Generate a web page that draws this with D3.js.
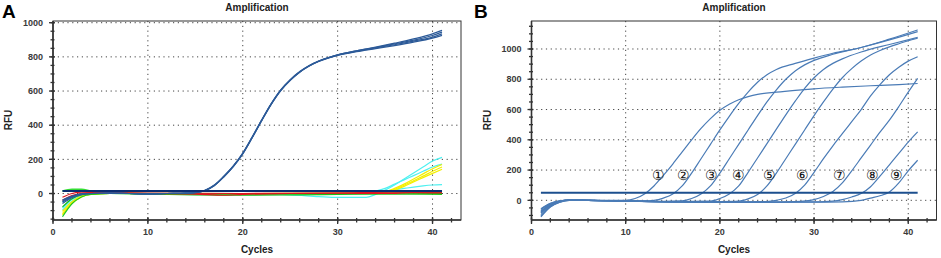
<!DOCTYPE html>
<html><head><meta charset="utf-8">
<script src="https://cdn.jsdelivr.net/npm/d3@7"></script>
<style>
body{margin:0;background:#fff}
svg{display:block}
text{font-family:"Liberation Sans",Arial,sans-serif}
</style>
</head><body>
<svg id="chart" width="941" height="258"></svg>
<script>
// ---------- shared axis data ----------
const xMajorTicks = [0, 10, 20, 30, 40];
const yMajorTicks = [0, 200, 400, 600, 800, 1000];
const titleText = "Amplification";
const xLabel = "Cycles";
const yLabel = "RFU";

// ---------- Panel A data: [cycle, RFU] ----------
const thresholdA = 15;
const aBlue1 = [[1,-58],[2,-25],[3,-6],[4,0],[6,2],[8,0],[10,-2],[12,0],[14,2],[15,6],[16,18],[17,48],[18,100],[19,160],[20,235],[21,330],[22,430],[23,525],[24,605],[25,665],[26,712],[27,748],[28,775],[29,795],[30,812],[32,836],[34,857],[36,880],[38,905],[40,935],[41,955]];
const aBlue2 = [[1,-50],[2,-20],[3,-4],[4,0],[6,2],[8,0],[10,-2],[12,0],[14,2],[15,6],[16,19],[17,50],[18,102],[19,162],[20,237],[21,332],[22,432],[23,527],[24,607],[25,667],[26,714],[27,750],[28,776],[29,796],[30,812],[32,835],[34,855],[36,876],[38,898],[40,925],[41,945]];
const aBlue3 = [[1,-45],[2,-18],[3,-3],[4,0],[6,2],[8,0],[10,-2],[12,0],[14,2],[15,5],[16,17],[17,47],[18,98],[19,158],[20,233],[21,328],[22,428],[23,523],[24,603],[25,663],[26,711],[27,747],[28,774],[29,794],[30,810],[32,833],[34,852],[36,871],[38,892],[40,916],[41,935]];
const aBlue4 = [[1,-38],[2,-15],[3,-2],[4,0],[6,2],[8,0],[10,-2],[12,0],[14,2],[15,5],[16,17],[17,46],[18,97],[19,157],[20,232],[21,327],[22,427],[23,522],[24,602],[25,662],[26,710],[27,746],[28,773],[29,793],[30,808],[32,830],[34,848],[36,866],[38,886],[40,910],[41,926]];
const aRed1 = [[1,-40],[2,-12],[3,0],[4,5],[6,3],[10,0],[15,-3],[18,-10],[20,-5],[25,0],[30,2],[35,0],[38,5],[41,3]];
const aRed2 = [[1,-22],[2,0],[3,8],[4,8],[6,5],[10,2],[20,0],[30,3],[36,8],[41,8]];
const aGreen1 = [[1,-78],[2,-30],[3,-8],[4,-2],[6,0],[10,-3],[15,-8],[20,-10],[25,-8],[30,-5],[35,-2],[41,0]];
const aGreen2 = [[1,-136],[2,-60],[3,-20],[4,-5],[6,0],[12,-5],[20,-5],[30,0],[41,-5]];
const aGreen3 = [[1,15],[2,25],[3,25],[4,15],[6,5],[10,0],[20,-2],[30,0],[41,8]];
const aCyan1 = [[1,-97],[2,-45],[3,-15],[4,-3],[6,0],[10,0],[20,-3],[25,-8],[28,-18],[30,-23],[33,-23],[34,-5],[35,20],[36,50],[37,85],[38,120],[39,155],[40,190],[41,212]];
const aCyan2 = [[1,-85],[2,-35],[3,-10],[4,0],[10,0],[20,0],[30,0],[33,5],[34,15],[35,30],[36,55],[37,80],[38,105],[39,130],[40,155],[41,172]];
const aCyan3 = [[1,-50],[2,-20],[3,-5],[5,0],[20,0],[30,0],[35,10],[36,22],[37,30],[38,38],[39,45],[40,50],[41,52]];
const aYellow1 = [[1,-117],[2,-55],[3,-18],[4,-4],[6,0],[20,0],[33,2],[35,10],[36,30],[37,55],[38,85],[39,115],[40,145],[41,170]];
const aYellow2 = [[1,-105],[2,-48],[3,-15],[4,-3],[6,0],[20,0],[34,2],[35,8],[36,25],[37,48],[38,75],[39,102],[40,130],[41,155]];
const aYellow3 = [[1,-125],[2,-58],[3,-20],[4,-5],[6,0],[20,0],[34,0],[35,5],[36,20],[37,42],[38,68],[39,93],[40,118],[41,142]];

// ---------- Panel B data: [cycle, RFU] ----------
const thresholdB = 50;
const bCurve1 = [[1,-60],[2,-22],[3,-4],[4,2],[6,0],[8,0],[10,0],[11,12],[12,42],[13,95],[14,165],[15,240],[16,320],[17,400],[18,475],[19,540],[20,595],[21,635],[22,665],[23,685],[24,700],[26,715],[28,727],[30,737],[33,748],[36,757],[39,765],[41,772]];
const bCurve2 = [[1,-75],[2,-28],[3,-6],[4,2],[6,0],[9,-3],[12,-4],[13,0],[14,15],[15,42],[16,95],[17,180],[18,275],[19,370],[20,465],[21,555],[22,640],[23,715],[24,780],[25,830],[26,865],[28,905],[30,940],[32,972],[35,1010],[38,1065],[41,1126]];
const bCurve3 = [[1,-85],[2,-32],[3,-8],[4,2],[6,0],[10,-4],[14,-6],[16,-3],[17,12],[18,42],[19,95],[20,180],[21,275],[22,370],[23,465],[24,560],[25,650],[26,730],[27,800],[28,855],[29,895],[30,925],[32,965],[35,1010],[38,1060],[41,1115]];
const bCurve4 = [[1,-95],[2,-38],[3,-10],[4,1],[6,0],[10,-5],[15,-8],[19,-5],[20,12],[21,42],[22,95],[23,185],[24,280],[25,375],[26,470],[27,565],[28,655],[29,740],[30,810],[31,865],[32,905],[33,935],[35,980],[38,1030],[41,1077]];
const bCurve5 = [[1,-105],[2,-42],[3,-12],[4,0],[6,0],[10,-5],[15,-10],[20,-8],[22,-5],[23,10],[24,38],[25,95],[26,180],[27,275],[28,370],[29,465],[30,560],[31,650],[32,735],[33,810],[34,870],[35,920],[36,960],[37,990],[39,1035],[41,1071]];
const bCurve6 = [[1,-70],[2,-26],[3,-5],[4,2],[6,0],[10,-6],[15,-10],[20,-12],[25,-8],[26,0],[27,15],[28,45],[29,100],[30,185],[31,275],[32,360],[33,440],[34,520],[35,600],[36,690],[37,765],[38,830],[39,880],[40,920],[41,949]];
const bCurve7 = [[1,-55],[2,-20],[3,-3],[4,2],[6,0],[10,-5],[15,-10],[20,-12],[25,-12],[28,-8],[30,5],[31,25],[32,58],[33,115],[34,195],[35,280],[36,365],[37,450],[38,530],[39,620],[40,715],[41,806]];
const bCurve8 = [[1,-80],[2,-30],[3,-7],[4,1],[6,0],[10,-5],[15,-10],[20,-12],[25,-12],[30,-10],[32,-5],[33,5],[34,22],[35,45],[36,90],[37,160],[38,235],[39,310],[40,385],[41,452]];
const bCurve9 = [[1,-110],[2,-45],[3,-12],[4,0],[6,0],[10,-5],[15,-10],[20,-12],[25,-12],[30,-12],[33,-10],[35,0],[36,15],[37,30],[38,55],[39,115],[40,195],[41,265]];
const bLabels = ["①","②","③","④","⑤","⑥","⑦","⑧","⑨"];
const bLabelCycles = [13.5, 16.1, 19.1, 22.0, 25.3, 28.8, 32.7, 36.2, 38.7];
const bLabelRfu = 165;

// ---------- drawing ----------
const svg = d3.select("#chart");

function drawPanel(o) {
  const x = d3.scaleLinear().domain([0, 43]).range([o.left, o.right]);
  const y = d3.scaleLinear().domain(o.yDomain).range([o.bottom, o.top]);
  const g = svg.append("g");

  // grid (dotted)
  const grid = g.append("g").attr("stroke", "#444").attr("stroke-width", 1)
    .attr("stroke-dasharray", "1.2,3.6");
  grid.selectAll(".gx").data(xMajorTicks.filter(d => d > 0)).join("line")
    .attr("x1", d => x(d)).attr("x2", d => x(d)).attr("y1", o.top).attr("y2", o.bottom);
  grid.selectAll(".gy").data(yMajorTicks).join("line")
    .attr("x1", o.left).attr("x2", o.right).attr("y1", d => y(d)).attr("y2", d => y(d));

  // frame
  g.append("rect").attr("x", o.left).attr("y", o.top)
    .attr("width", o.right - o.left).attr("height", o.bottom - o.top)
    .attr("fill", "none").attr("stroke", "#333").attr("stroke-width", 1);

  // curves
  const line = d3.line().x(d => x(d[0])).y(d => y(d[1])).curve(d3.curveMonotoneX);
  const cg = g.append("g").attr("fill", "none");
  o.series.forEach(s => {
    cg.append("path").datum(s.data).attr("d", line)
      .attr("stroke", s.color).attr("stroke-width", s.width || 1.2);
  });
  // threshold
  cg.append("path").datum([[1, o.threshold], [41, o.threshold]]).attr("d", line)
    .attr("stroke", o.thresholdColor).attr("stroke-width", 2);

  // axes
  const xMinor = d3.range(0, 43, 2);
  const yMinor = d3.range(Math.ceil(o.yDomain[0] / 50) * 50, o.yDomain[1], 50);
  const ax = g.append("g").attr("stroke", "#333");
  ax.selectAll(".xm").data(xMinor).join("line")
    .attr("x1", d => x(d)).attr("x2", d => x(d))
    .attr("y1", o.bottom - 2).attr("y2", o.bottom + 2.5).attr("stroke-width", 1.3);
  ax.selectAll(".xM").data(xMajorTicks).join("line")
    .attr("x1", d => x(d)).attr("x2", d => x(d))
    .attr("y1", o.bottom - 3).attr("y2", o.bottom + 4).attr("stroke-width", 1.3);
  ax.selectAll(".ym").data(yMinor).join("line")
    .attr("x1", o.left - 2.5).attr("x2", o.left + 1.5)
    .attr("y1", d => y(d)).attr("y2", d => y(d)).attr("stroke-width", 1.3);
  ax.selectAll(".yM").data(yMajorTicks).join("line")
    .attr("x1", o.left - 4).attr("x2", o.left + 2)
    .attr("y1", d => y(d)).attr("y2", d => y(d)).attr("stroke-width", 1.3);
  ax.append("line").attr("x1", o.left).attr("x2", o.right)
    .attr("y1", o.bottom).attr("y2", o.bottom).attr("stroke-width", 1.6);
  ax.append("line").attr("x1", o.left).attr("x2", o.left)
    .attr("y1", o.top).attr("y2", o.bottom).attr("stroke-width", 1.6);

  // tick labels
  g.selectAll(".xl").data(xMajorTicks).join("text")
    .attr("x", d => x(d)).attr("y", 235).attr("text-anchor", "middle")
    .attr("font-size", 9).attr("font-weight", "bold").attr("fill", "#3a3a3a").text(d => d);
  g.selectAll(".yl").data(yMajorTicks).join("text")
    .attr("x", o.left - 10).attr("y", d => y(d) + 3.2).attr("text-anchor", "end")
    .attr("font-size", 9).attr("font-weight", "bold").attr("fill", "#3a3a3a").text(d => d);

  // titles
  g.append("text").attr("x", (o.left + o.right) / 2).attr("y", 11)
    .attr("text-anchor", "middle").attr("font-size", 10).attr("font-weight", "bold")
    .attr("fill", "#222").text(titleText);
  g.append("text").attr("x", (o.left + o.right) / 2).attr("y", 253)
    .attr("text-anchor", "middle").attr("font-size", 10).attr("font-weight", "bold")
    .attr("fill", "#222").text(xLabel);
  g.append("text").attr("transform", `translate(${o.yLabelX},120) rotate(-90)`)
    .attr("text-anchor", "middle").attr("font-size", 10).attr("font-weight", "bold")
    .attr("fill", "#222").text(yLabel);
  g.append("text").attr("x", o.letterX).attr("y", 18)
    .attr("font-size", 19).attr("font-weight", "bold").attr("fill", "#000").text(o.letter);

  return {x, y, g};
}

const blueA = "#2c5a98";
drawPanel({
  left: 53, right: 461, top: 21, bottom: 220, yDomain: [-155, 1010],
  threshold: thresholdA, thresholdColor: "#0b2c70", yLabelX: 12, letter: "A", letterX: 2,
  series: [
    {data: aCyan3, color: "#4ff0f0"}, {data: aCyan2, color: "#4ff0f0"}, {data: aCyan1, color: "#4ff0f0"},
    {data: aYellow3, color: "#f4ef00"}, {data: aYellow2, color: "#f4ef00"}, {data: aYellow1, color: "#f4ef00"},
    {data: aGreen2, color: "#22cc22"}, {data: aGreen1, color: "#11bb11"}, {data: aGreen3, color: "#33dd33", width: 1.6},
    {data: aRed1, color: "#e0141e"}, {data: aRed2, color: "#e0141e"},
    {data: aBlue4, color: blueA}, {data: aBlue3, color: blueA}, {data: aBlue2, color: blueA}, {data: aBlue1, color: blueA}
  ]
});

const blueB = "#4a7bb6";
const pB = drawPanel({
  left: 531.5, right: 936.5, top: 21, bottom: 220, yDomain: [-130, 1185],
  threshold: thresholdB, thresholdColor: "#1c4f8e", yLabelX: 491, letter: "B", letterX: 474,
  series: [bCurve1, bCurve2, bCurve3, bCurve4, bCurve5, bCurve6, bCurve7, bCurve8, bCurve9]
    .map(d => ({data: d, color: blueB, width: 1.2}))
});

pB.g.selectAll(".lab").data(bLabels).join("text")
  .attr("x", (d, i) => pB.x(bLabelCycles[i])).attr("y", pB.y(bLabelRfu))
  .attr("dominant-baseline", "central")
  .attr("text-anchor", "middle").attr("font-size", 14)
  .attr("font-family", "'Noto Sans CJK JP', 'DejaVu Sans', sans-serif")
  .attr("fill", "#111").text(d => d);
</script>
</body></html>
